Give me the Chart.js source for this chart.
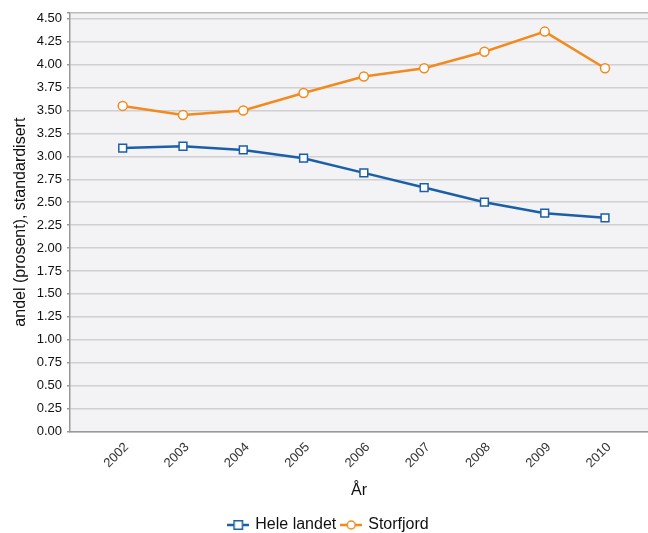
<!DOCTYPE html>
<html>
<head>
<meta charset="utf-8">
<script src="https://cdn.jsdelivr.net/npm/chart.js@4.4.1/dist/chart.umd.min.js"></script>
<style>
html,body{margin:0;padding:0;background:#fff;}
#wrap{width:648px;height:533px;}
</style>
</head>
<body>
<div id="wrap"><canvas id="c" width="648" height="533"></canvas></div>
<script>
const years = [2002, 2003, 2004, 2005, 2006, 2007, 2008, 2009, 2010];
const heleLandet = [3.09, 3.11, 3.07, 2.98, 2.82, 2.66, 2.50, 2.38, 2.33];
const storfjord = [3.55, 3.45, 3.50, 3.69, 3.87, 3.96, 4.14, 4.36, 3.96];
const yTicks = [0, 0.25, 0.5, 0.75, 1, 1.25, 1.5, 1.75, 2, 2.25, 2.5, 2.75, 3, 3.25, 3.5, 3.75, 4, 4.25, 4.5];
const seriesNames = ['Hele landet', 'Storfjord'];

const BLUE = '#1b5fa8';
const ORANGE = '#f28a1f';
const FONT = "'Liberation Sans', Arial, sans-serif";

function legendIcon(color, shape) {
  const cv = document.createElement('canvas');
  cv.width = 22; cv.height = 12;
  const g = cv.getContext('2d');
  g.strokeStyle = color; g.lineWidth = 2.5;
  g.beginPath(); g.moveTo(0, 6); g.lineTo(22, 6); g.stroke();
  g.fillStyle = '#fff'; g.lineWidth = 1.5;
  if (shape === 'rect') {
    g.fillRect(6.75, 1.75, 8.5, 8.5); g.strokeRect(6.75, 1.75, 8.5, 8.5);
  } else {
    g.beginPath(); g.arc(11, 6, 4, 0, Math.PI * 2); g.fill(); g.stroke();
  }
  return cv;
}

const bgPlugin = {
  id: 'bg',
  beforeDraw(chart) {
    const a = chart.chartArea, ctx = chart.ctx;
    ctx.save();
    ctx.fillStyle = '#f3f3f5';
    ctx.fillRect(a.left, a.top, a.right - a.left, a.bottom - a.top);
    ctx.restore();
    if (chart.legend && !chart.legend._shifted) {
      chart.legend.left += 5; chart.legend.right += 5;
      chart.legend._shifted = true;
    }
  }
};

new Chart(document.getElementById('c'), {
  type: 'line',
  data: {
    datasets: [
      {
        label: seriesNames[0],
        data: years.map((y, i) => ({x: y, y: heleLandet[i]})),
        borderColor: BLUE, backgroundColor: '#fff',
        borderWidth: 2.5, pointStyle: 'rect', pointRadius: 5.5,
        pointBorderWidth: 1.5, pointBorderColor: BLUE, pointBackgroundColor: '#fff',
        tension: 0
      },
      {
        label: seriesNames[1],
        data: years.map((y, i) => ({x: y, y: storfjord[i]})),
        borderColor: ORANGE, backgroundColor: '#fff',
        borderWidth: 2.5, pointStyle: 'circle', pointRadius: 4.5,
        pointBorderWidth: 1.5, pointBorderColor: ORANGE, pointBackgroundColor: '#fff',
        tension: 0
      }
    ]
  },
  options: {
    responsive: false,
    animation: false,
    layout: {autoPadding: false, padding: {left: 0, right: 0, top: 11, bottom: -10}},
    plugins: {
      tooltip: {enabled: false},
      legend: {
        position: 'bottom',
        labels: {
          font: {family: FONT, size: 16},
          color: '#111',
          padding: 6,
          boxWidth: 18,
          boxHeight: 12,
          pointStyleWidth: 18,
          usePointStyle: true,
          generateLabels(chart) {
            return chart.data.datasets.map((d, i) => ({
              text: d.label,
              pointStyle: legendIcon(d.borderColor, i === 0 ? 'rect' : 'circle'),
              datasetIndex: i,
              fillStyle: '#fff', strokeStyle: d.borderColor, lineWidth: 0,
              fontColor: '#111'
            }));
          }
        }
      }
    },
    scales: {
      x: {
        type: 'linear',
        min: 2001.126,
        max: 2010.713,
        afterBuildTicks(axis) { axis.ticks = years.map(v => ({value: v})); },
        afterFit(scale) { scale.height = 79.5; scale.paddingLeft = 0; scale.paddingRight = 0; },
        grid: {display: false, drawTicks: false},
        border: {display: true, color: '#999', width: 1.5},
        ticks: {
          font: {family: FONT, size: 13},
          color: '#333',
          minRotation: 45, maxRotation: 45,
          padding: 8,
          labelOffset: 4,
          callback: v => String(v)
        },
        title: {
          display: true, text: 'År',
          font: {family: FONT, size: 16}, color: '#111',
          padding: {top: 2, bottom: 11}
        }
      },
      y: {
        min: 0,
        max: 4.565,
        afterBuildTicks(axis) { axis.ticks = yTicks.map(v => ({value: v})).concat([{value: 4.565}]); },
        afterFit(scale) { scale.width = 70; },
        grid: {
          color: ctx => (ctx.tick && ctx.tick.value === 4.565) ? '#bbb' : '#d0d0d3',
          lineWidth: 1.5,
          tickLength: 3,
          tickColor: '#999'
        },
        border: {display: true, color: '#999', width: 1.5},
        ticks: {
          font: {family: FONT, size: 13},
          color: '#111',
          padding: 5,
          callback: v => v === 4.565 ? '' : v.toFixed(2)
        },
        title: {
          display: true, text: 'andel (prosent), standardisert',
          font: {family: FONT, size: 16}, color: '#111',
          padding: {top: 11, bottom: 4}
        }
      }
    }
  },
  plugins: [bgPlugin]
});
</script>
</body>
</html>
